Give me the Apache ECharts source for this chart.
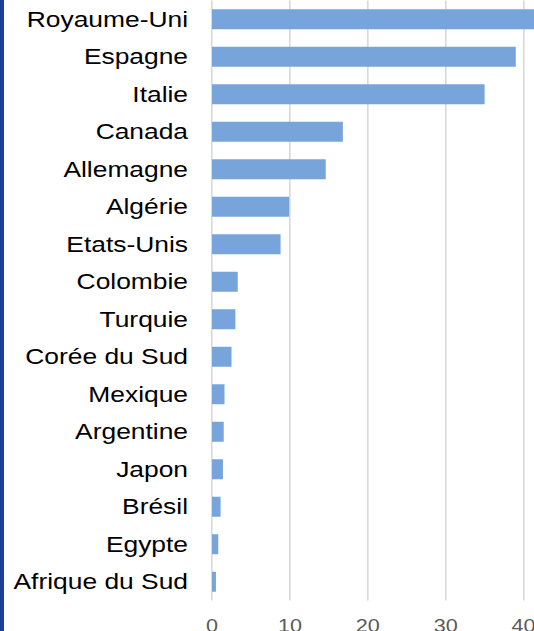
<!DOCTYPE html>
<html>
<head>
<meta charset="utf-8">
<script src="https://cdn.jsdelivr.net/npm/echarts/dist/echarts.min.js"></script>
<style>
  html, body { margin: 0; padding: 0; width: 534px; height: 631px; overflow: hidden; background: #fff; position: relative; }
  #wrap { position: absolute; left: 0; top: 0; width: 520px; height: 631px; transform: scaleX(1.2); transform-origin: 0 0; }
  #chart { width: 520px; height: 631px; }
  #strip { position: absolute; left: 0; top: 0; width: 4px; height: 631px; background: #1d3f96; }
</style>
</head>
<body>
<div id="wrap"><div id="chart"></div></div>
<div id="strip"></div>
<script>
// Data (top to bottom as displayed)
const categories = ['Royaume-Uni', 'Espagne', 'Italie', 'Canada', 'Allemagne', 'Algérie', 'Etats-Unis', 'Colombie', 'Turquie', 'Corée du Sud', 'Mexique', 'Argentine', 'Japon', 'Brésil', 'Egypte', 'Afrique du Sud'];
const values = [44, 39.0, 35.0, 16.8, 14.6, 9.9, 8.8, 3.3, 3.0, 2.5, 1.6, 1.5, 1.4, 1.1, 0.8, 0.5];
const xTicks = [0, 10, 20, 30, 40, 50];

const chart = echarts.init(document.getElementById('chart'), null, { renderer: 'svg' });
chart.setOption({
  animation: false,
  grid: { left: 176.7, right: 18.8, top: 0.5, bottom: 30.5, containLabel: false, outerBoundsMode: 'none' },
  xAxis: {
    type: 'value',
    min: xTicks[0],
    max: xTicks[xTicks.length - 1],
    interval: 10,
    axisLine: { show: false },
    axisTick: { show: false },
    axisLabel: { color: '#595959', fontSize: 18, fontFamily: 'Liberation Sans, Arial, sans-serif', margin: 16 },
    splitLine: { show: true, lineStyle: { color: '#d9d9d9', width: 1.4 } }
  },
  yAxis: {
    type: 'category',
    inverse: true,
    data: categories,
    axisLine: { show: false },
    axisTick: { show: false },
    axisLabel: { color: '#000', fontSize: 22, fontFamily: 'Liberation Sans, Arial, sans-serif', margin: 20 }
  },
  series: [{
    type: 'bar',
    data: values,
    barWidth: 20,
    itemStyle: { color: '#77a4db' }
  }]
});
</script>
</body>
</html>
